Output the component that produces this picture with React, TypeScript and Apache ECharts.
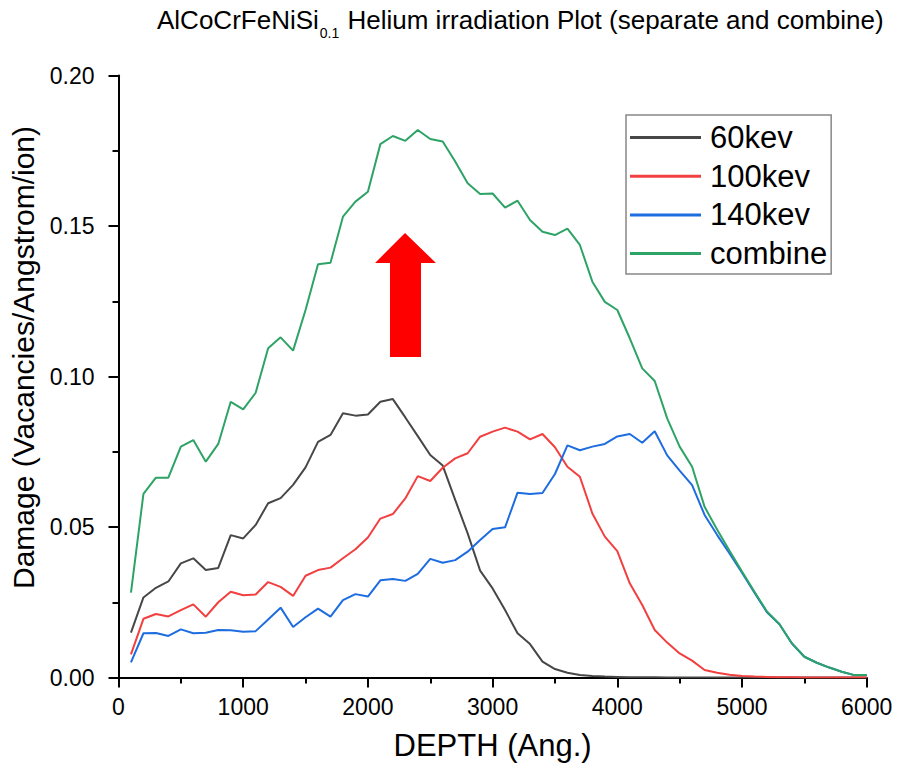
import React, { useEffect, useRef } from "react";
import * as echarts from "echarts";

const depth = [
  100, 200, 300, 400, 500, 600, 700, 800, 900, 1000,
  1100, 1200, 1300, 1400, 1500, 1600, 1700, 1800, 1900, 2000,
  2100, 2200, 2300, 2400, 2500, 2600, 2700, 2800, 2900, 3000,
  3100, 3200, 3300, 3400, 3500, 3600, 3700, 3800, 3900, 4000,
  4100, 4200, 4300, 4400, 4500, 4600, 4700, 4800, 4900, 5000,
  5100, 5200, 5300, 5400, 5500, 5600, 5700, 5800, 5900, 6000,
];

const kev60 = [
  0.0149, 0.0266, 0.0298, 0.0319, 0.0379, 0.0396, 0.0357, 0.0364, 0.0473, 0.0462,
  0.0507, 0.0579, 0.0596, 0.064, 0.0698, 0.0783, 0.0806, 0.0878, 0.087, 0.0874,
  0.0916, 0.0925, 0.0864, 0.0802, 0.0739, 0.0704, 0.059, 0.0479, 0.0355, 0.0296,
  0.0224, 0.0147, 0.0111, 0.0053, 0.0028, 0.0016, 0.0008, 0.0005, 0.0003, 0.0002,
  0.0001, 0.0001, 0.0001, 0, 0, 0, 0, 0, 0, 0,
  0, 0, 0, 0, 0, 0, 0, 0, 0, 0,
];

const kev100 = [
  0.0077, 0.0195, 0.0211, 0.0203, 0.0224, 0.0243, 0.0202, 0.025, 0.0285, 0.0273,
  0.0276, 0.0317, 0.0301, 0.0271, 0.0338, 0.0357, 0.0365, 0.0396, 0.0426, 0.0465,
  0.0528, 0.0543, 0.0595, 0.0669, 0.0653, 0.0697, 0.0728, 0.0745, 0.08, 0.0817,
  0.083, 0.0817, 0.0791, 0.0809, 0.0765, 0.07, 0.0667, 0.0545, 0.0468, 0.042,
  0.0313, 0.0241, 0.0158, 0.0116, 0.008, 0.0056, 0.0025, 0.0016, 0.0009, 0.0005,
  0.0003, 0.0002, 0.0001, 0.0001, 0, 0, 0, 0, 0, 0,
];

const kev140 = [
  0.005, 0.0147, 0.0148, 0.0138, 0.016, 0.0147, 0.0149, 0.0158, 0.0157, 0.0152,
  0.0154, 0.0193, 0.0232, 0.0168, 0.02, 0.0229, 0.0202, 0.0257, 0.0277, 0.0269,
  0.0323, 0.0327, 0.0321, 0.0344, 0.0394, 0.0381, 0.039, 0.0418, 0.0457, 0.0493,
  0.0499, 0.0614, 0.061, 0.0613, 0.0676, 0.0771, 0.0755, 0.0767, 0.0776, 0.0801,
  0.0809, 0.078, 0.0818, 0.0738, 0.0687, 0.0639, 0.054, 0.0474, 0.0412, 0.0348,
  0.0282, 0.0217, 0.0177, 0.0113, 0.0069, 0.0049, 0.0033, 0.0019, 0.0008, 0.0008,
];

const combine = [
  0.0282, 0.061, 0.0664, 0.0664, 0.0767, 0.0789, 0.0717, 0.0776, 0.0916, 0.0891,
  0.0946, 0.1094, 0.113, 0.1086, 0.1221, 0.1373, 0.1378, 0.1531, 0.1581, 0.1614,
  0.1772, 0.1799, 0.1783, 0.1819, 0.1789, 0.1781, 0.1714, 0.1642, 0.1606, 0.1608,
  0.1561, 0.1584, 0.152, 0.1481, 0.147, 0.1491, 0.1437, 0.1315, 0.1248, 0.1221,
  0.1127, 0.1027, 0.0985, 0.0861, 0.0767, 0.07, 0.0567, 0.0492, 0.0421, 0.0352,
  0.0285, 0.0219, 0.0178, 0.0114, 0.0069, 0.0049, 0.0033, 0.0019, 0.0008, 0.0008,
];

const seriesNames = ["60kev", "100kev", "140kev", "combine"];
const seriesValues = [kev60, kev100, kev140, combine];
const seriesColors = ["#474747", "#f23f3f", "#1d6ce0", "#2ea366"];
const yTicks = [0, 0.05, 0.1, 0.15, 0.2];

const FONT = "'Liberation Sans', Arial, sans-serif";

export default function App() {
  const ref = useRef<HTMLDivElement>(null);

  useEffect(() => {
    if (!ref.current) return;
    const chart = echarts.init(ref.current, undefined, { renderer: "svg" });
    const axisCommon = {
      axisLine: { show: true, lineStyle: { color: "#000", width: 2 } },
      axisTick: { show: true, inside: false, length: 10, lineStyle: { color: "#000", width: 2 } },
      minorTick: { show: true, splitNumber: 2, length: 6, lineStyle: { color: "#000", width: 2 } },
      splitLine: { show: false },
      axisLabel: { color: "#000", fontSize: 23, fontFamily: FONT },
    };
    chart.setOption({
      animation: false,
      backgroundColor: "#fff",
      textStyle: { fontFamily: FONT },
      title: {
        text: "{a|AlCoCrFeNiSi}{s|0.1}{a| Helium irradiation Plot (separate and combine)}",
        left: 157,
        top: 7,
        padding: 0,
        textStyle: {
          fontWeight: "normal",
          rich: {
            a: { fontSize: 26, fontWeight: "normal", color: "#000", fontFamily: FONT, verticalAlign: "top", lineHeight: 30 },
            s: {
              fontSize: 14,
              fontWeight: "normal",
              color: "#000",
              fontFamily: FONT,
              verticalAlign: "top",
              lineHeight: 14,
              padding: [19, 1, 0, 1],
            },
          },
        },
      },
      legend: {
        orient: "vertical",
        left: 626,
        top: 115,
        padding: [7, 4, 5, 4],
        borderColor: "#888",
        borderWidth: 1.5,
        icon: "rect",
        itemWidth: 71,
        itemHeight: 3,
        itemGap: 7.7,
        data: seriesNames,
        textStyle: { fontSize: 31, color: "#000", fontFamily: FONT, lineHeight: 31, padding: [0, 0, 0, 4] },
      },
      grid: { left: 118.5, right: 30.3, top: 75.5, bottom: 94.5, containLabel: false },
      xAxis: {
        type: "value",
        min: 0,
        max: 6000,
        interval: 1000,
        name: "DEPTH (Ang.)",
        nameLocation: "middle",
        nameGap: 52,
        nameTextStyle: { color: "#000", fontSize: 31, fontFamily: FONT },
        ...axisCommon,
        axisLabel: { ...axisCommon.axisLabel, margin: 18, formatter: (v: number) => String(v) },
      },
      yAxis: {
        type: "value",
        min: yTicks[0],
        max: yTicks[yTicks.length - 1],
        interval: 0.05,
        name: "Damage (Vacancies/Angstrom/ion)",
        nameLocation: "middle",
        nameGap: 78,
        nameTextStyle: { color: "#000", fontSize: 30, fontFamily: FONT, padding: [0, 0, 0, 38] },
        ...axisCommon,
        axisLabel: {
          ...axisCommon.axisLabel,
          margin: 24,
          formatter: (v: number) => v.toFixed(2),
        },
      },
      series: seriesNames.map((name, i) => ({
        name,
        type: "line",
        symbol: "none",
        showSymbol: false,
        color: seriesColors[i],
        lineStyle: { color: seriesColors[i], width: 2 },
        data: depth.map((d, j) => [d, seriesValues[i][j]]),
      })),
      graphic: [
        {
          type: "polygon",
          z: 100,
          shape: {
            points: [
              [405, 233],
              [436, 263],
              [421, 263],
              [421, 357],
              [390, 357],
              [390, 263],
              [375, 263],
            ],
          },
          style: { fill: "#ff0000" },
        },
      ],
    });
    return () => chart.dispose();
  }, []);

  return (
    <div
      ref={ref}
      style={{ position: "absolute", left: 0, top: 0, width: 897, height: 772, background: "#fff" }}
    />
  );
}
